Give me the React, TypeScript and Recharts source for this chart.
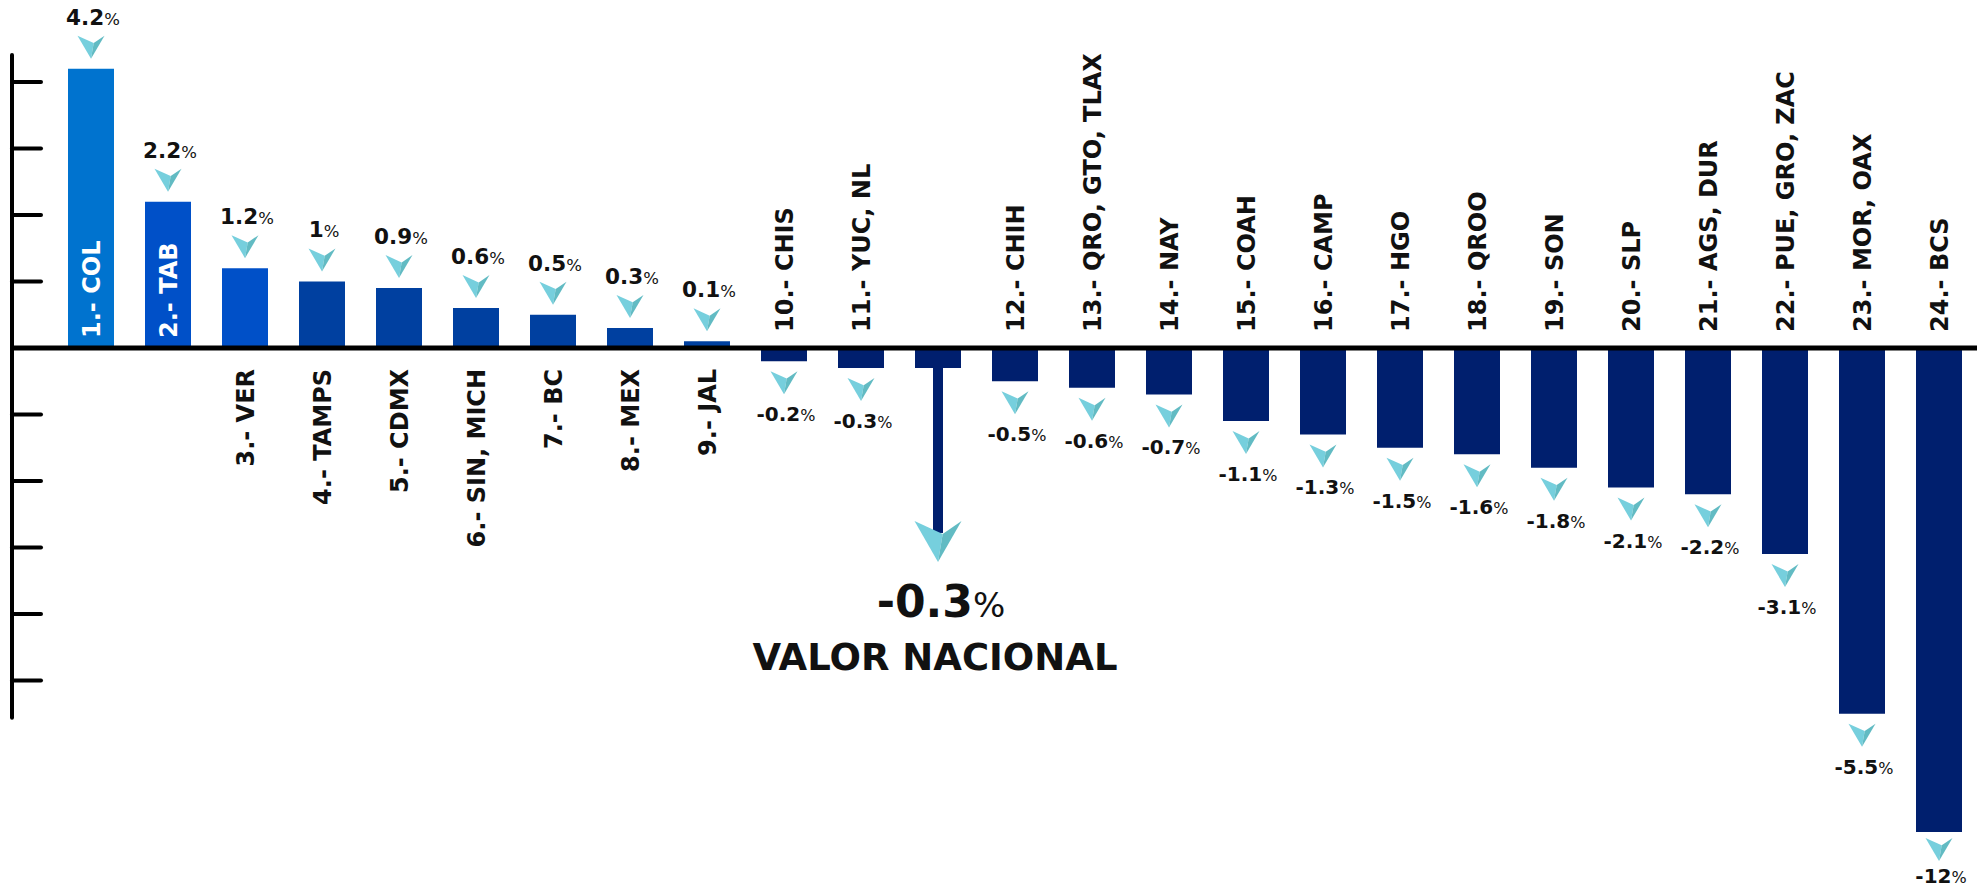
import React from "react";
import { ComposedChart, Bar, Cell, XAxis, YAxis, ReferenceLine, LabelList } from "recharts";

// ---------- data ----------
const categories = [
  "1.- COL", "2.- TAB", "3.- VER", "4.- TAMPS", "5.- CDMX", "6.- SIN, MICH", "7.- BC",
  "8.- MEX", "9.- JAL", "10.- CHIS", "11.- YUC, NL", "VALOR NACIONAL", "12.- CHIH",
  "13.- QRO, GTO, TLAX", "14.- NAY", "15.- COAH", "16.- CAMP", "17.- HGO", "18.- QROO",
  "19.- SON", "20.- SLP", "21.- AGS, DUR", "22.- PUE, GRO, ZAC", "23.- MOR, OAX", "24.- BCS",
];
const values = [
  4.2, 2.2, 1.2, 1, 0.9, 0.6, 0.5, 0.3, 0.1, -0.2, -0.3, -0.3, -0.5, -0.6, -0.7, -1.1,
  -1.3, -1.5, -1.6, -1.8, -2.1, -2.2, -3.1, -5.5, -12,
];
const NATIONAL_NAME = "VALOR NACIONAL";
const axisTicks = [4, 3, 2, 1, -1, -2, -3, -4, -5];

const data = categories.map((name, i) => ({ name, value: values[i] }));

// ---------- layout / style ----------
const W = 1974;
const H = 882;
const MARGIN = { top: 47, right: 5, bottom: 58, left: 4 };
const Y_DOMAIN: [number, number] = [-7.28, 4.406];
const AXIS_LINE_END = -5.56;
const PLOT_BOTTOM = H - MARGIN.bottom;
const FONT = "'DejaVu Sans', sans-serif";
const NAVY = "#001F6E";
const TEXT = "#111111";

function barColor(i: number, v: number) {
  if (i === 0) return "#0073CF";
  if (i === 1 || i === 2) return "#0050C8";
  if (v > 0) return "#0040A0";
  return NAVY;
}

function Chevron({ cx, top, w, h }: { cx: number; top: number; w: number; h: number }) {
  const l = cx - w / 2;
  const r = cx + w / 2;
  const nx = cx + w * 0.1;
  const ny = top + h * 0.32;
  const tip = top + h;
  return (
    <g>
      <polygon points={`${l},${top} ${nx},${ny} ${cx},${tip}`} fill="#76CFDD" />
      <polygon points={`${nx},${ny} ${r},${top} ${cx},${tip}`} fill="#62BBC3" />
    </g>
  );
}

function renderLabels(props: any) {
  const vb = props.viewBox && props.viewBox.width != null ? props.viewBox : props;
  const x = Number(vb.x);
  const y = Number(vb.y);
  const w = Number(vb.width);
  const h = Number(vb.height);
  let i = props.index;
  if (i == null || categories[i] == null) i = values.indexOf(props.value);
  const v = values[i];
  const name = categories[i];
  const cx = x + w / 2;
  const y1 = Math.min(y, y + h);
  const y2 = Math.max(y, y + h);
  const zero = v >= 0 ? y2 : y1;
  const clipped = y2 > PLOT_BOTTOM;
  const end = v >= 0 ? y1 : Math.min(y2, PLOT_BOTTOM);
  const num = String(v);

  if (name === NATIONAL_NAME) {
    return (
      <g>
        <rect x={cx - 5} y={end - 1} width={10} height={zero + 186 - end} fill={NAVY} />
        <Chevron cx={cx} top={zero + 173} w={47} h={41} />
        <text x={cx + 3} y={zero + 269} textAnchor="middle" fontFamily={FONT} fontWeight="bold" fontSize={44} fill={TEXT}>
          {num}
          <tspan fontSize={34} fontWeight="normal">%</tspan>
        </text>
        <text x={cx - 3} y={zero + 322} textAnchor="middle" fontFamily={FONT} fontWeight="bold" fontSize={37} fill={TEXT}>
          {NATIONAL_NAME}
        </text>
      </g>
    );
  }

  let catY: number;
  let anchor: "start" | "end";
  let catFill = TEXT;
  if (v >= 0 && i < 2) {
    catY = zero - 10;
    anchor = "start";
    catFill = "#FFFFFF";
  } else if (v >= 0) {
    catY = zero + 21;
    anchor = "end";
  } else {
    catY = zero - 16;
    anchor = "start";
  }

  const valueEl =
    v >= 0 ? (
      <g>
        <Chevron cx={cx} top={end - 33} w={27} h={23} />
        <text x={cx + 2} y={end - 44} textAnchor="middle" fontFamily={FONT} fontWeight="bold" fontSize={21.5} fill={TEXT}>
          {num}
          <tspan fontSize={16.5} fontWeight="normal">%</tspan>
        </text>
      </g>
    ) : (
      <g>
        <Chevron cx={cx} top={end + (clipped ? 6 : 10)} w={27} h={23} />
        <text x={cx + 2} y={end + (clipped ? 51 : 60)} textAnchor="middle" fontFamily={FONT} fontWeight="bold" fontSize={20} fill={TEXT}>
          {num}
          <tspan fontSize={16} fontWeight="normal">%</tspan>
        </text>
      </g>
    );

  return (
    <g>
      <text
        x={cx}
        y={catY}
        dy="0.36em"
        transform={`rotate(-90 ${cx} ${catY})`}
        textAnchor={anchor}
        fontFamily={FONT}
        fontWeight="bold"
        fontSize={24}
        fill={catFill}
      >
        {name}
      </text>
      {valueEl}
    </g>
  );
}

const EmptyTick = () => <g />;

export default function App() {
  return (
    <div style={{ position: "absolute", left: 8, top: 8, width: W, height: H, background: "#fff" }}>
      <ComposedChart width={W} height={H} data={data} margin={MARGIN}>
        <XAxis dataKey="name" type="category" hide padding={{ left: 40, right: 0 }} />
        <XAxis xAxisId="num" type="number" domain={[0, 1]} hide />
        <YAxis
          type="number"
          domain={Y_DOMAIN}
          allowDataOverflow
          ticks={axisTicks}
          interval={0}
          mirror
          width={1}
          tick={EmptyTick}
          tickSize={29}
          tickLine={{ stroke: "#000", strokeWidth: 4, strokeLinecap: "round" }}
          axisLine={false}
        />
        <Bar dataKey="value" barSize={46} isAnimationActive={false}>
          {data.map((d, i) => (
            <Cell key={d.name} fill={barColor(i, d.value)} />
          ))}
          <LabelList dataKey="value" content={renderLabels} />
        </Bar>
        <ReferenceLine y={0} stroke="#000" strokeWidth={5} />
        <ReferenceLine
          xAxisId="num"
          segment={[
            { x: 0, y: Y_DOMAIN[1] },
            { x: 0, y: AXIS_LINE_END },
          ]}
          stroke="#000"
          strokeWidth={4}
          strokeLinecap="round"
        />
      </ComposedChart>
    </div>
  );
}
